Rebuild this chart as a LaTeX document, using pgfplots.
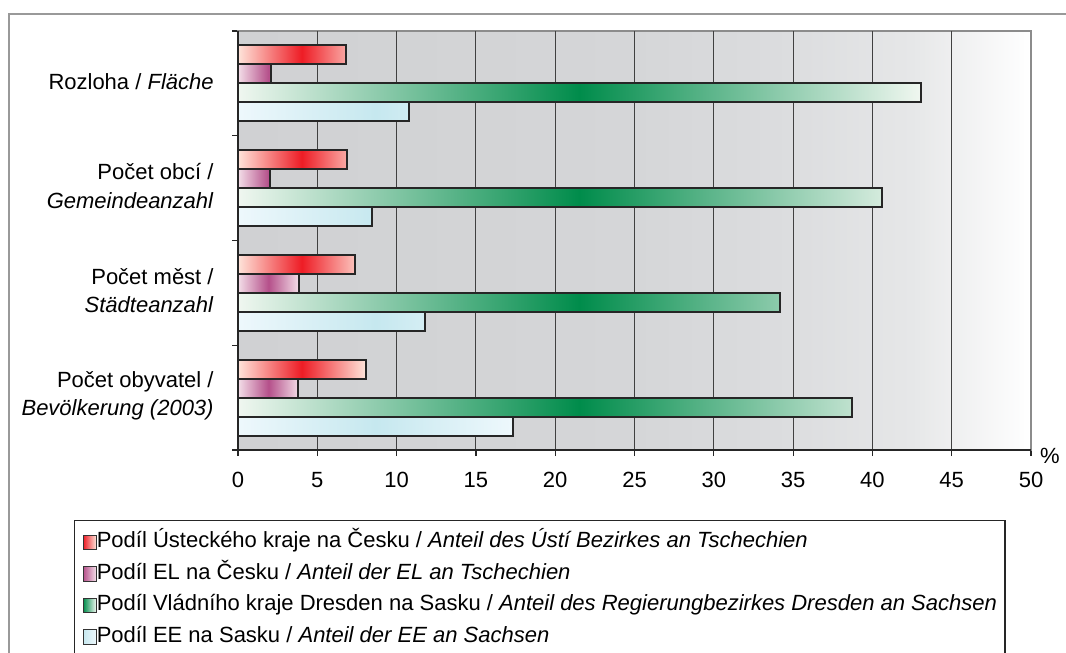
\documentclass[border=0pt]{standalone}
\usepackage{fontspec}
\setmainfont{Liberation Sans}
\usepackage{pgfplots}
\pgfplotsset{compat=1.18}
\definecolor{redM}{HTML}{EE1C25}
\definecolor{redL}{HTML}{FEE4DA}
\definecolor{purM}{HTML}{B5508A}
\definecolor{purL}{HTML}{F3DEE8}
\definecolor{grnM}{HTML}{008C4B}
\definecolor{grnL}{HTML}{F0F7F0}
\definecolor{bluM}{HTML}{C6E8EF}
\definecolor{bluL}{HTML}{EEF8FC}
\definecolor{bgA}{HTML}{D0D1D3}
\definecolor{bgB}{HTML}{D5D6D8}
\definecolor{bgC}{HTML}{DCDDDF}
\definecolor{bgD}{HTML}{E6E7E8}
\pgfdeclarehorizontalshading{bgshade}{100bp}{color(0bp)=(bgA); color(25bp)=(bgA); color(50bp)=(bgB); color(60bp)=(bgC); color(67.5bp)=(bgD); color(75bp)=(white); color(100bp)=(white)}
\begin{document}
\begin{tikzpicture}
\draw[black!40, line width=1pt] (4.5pt,-360pt) |- (560pt,-7pt);
\begin{axis}[
  at={(119pt,-225pt)}, anchor=south west,
  scale only axis, width=396.5pt, height=209.5pt,
  xbar, bar width=0.181,
  xmin=0, xmax=50, ymin=-0.5, ymax=3.5, y dir=reverse,
  axis background/.style={shade, shading=bgshade},
  axis line style={black!45, line width=1pt},
  xtick={0,5,...,50},
  ytick={-0.5,0.5,1.5,2.5,3.5}, yticklabels={,,,,},
  extra y ticks={0,1,2,3},
  extra y tick labels={{Rozloha / \textit{Fläche}},{Počet obcí /\\\textit{Gemeindeanzahl}},{Počet měst /\\\textit{Städteanzahl}},{Počet obyvatel /\\\textit{Bevölkerung (2003)}}},
  extra y tick style={major tick length=0pt},
  extra x ticks={5,10,...,45}, extra x tick labels={},
  extra x tick style={grid=major, major tick length=0pt},
  major grid style={black!75, line width=0.5pt},
  tick align=outside, xtick pos=bottom, ytick pos=left,
  major tick length=3pt,
  tick style={black!85, line width=0.6pt},
  /pgf/number format/assume math mode=true,
  xticklabel style={font=\fontsize{11}{13}\selectfont, anchor=mid, yshift=-13.2pt, inner sep=0pt},
  yticklabel style={font=\fontsize{11}{14.2}\selectfont, align=right, anchor=east, inner sep=0pt, xshift=-12pt, yshift=1pt},
  legend cell align=left,
  legend style={at={(-0.2068,-0.1659)}, anchor=north west, draw=black!85, line width=0.6pt, fill=white,
    inner xsep=4pt, inner ysep=5.9pt, row sep=5.25pt, font=\fontsize{11}{13}\selectfont,
    nodes={inner sep=0pt, text height=8pt, text depth=2.5pt},
    /tikz/every even column/.append style={column sep=3pt}},
  clip=false,
]
\addplot[bar shift=-0.2715, draw=black!85, line width=1pt, left color=redL, right color=redL, middle color=redM,
  legend image code/.code={\draw[draw=black!80, line width=0.6pt, left color=redM, right color=redL] (0pt,-3.6pt) rectangle (6.5pt,3.6pt);}]
  coordinates {(6.8,0) (6.9,1) (7.4,2) (8.05,3)};
\addlegendentry{Podíl Ústeckého kraje na Česku / \textit{Anteil des Ústí Bezirkes an Tschechien}}
\addplot[bar shift=-0.0905, draw=black!85, line width=1pt, left color=purL, right color=purL, middle color=purM,
  legend image code/.code={\draw[draw=black!80, line width=0.6pt, left color=purM, right color=purL] (0pt,-3.6pt) rectangle (6.5pt,3.6pt);}]
  coordinates {(2.1,0) (2.0,1) (3.85,2) (3.8,3)};
\addlegendentry{Podíl EL na Česku / \textit{Anteil der EL an Tschechien}}
\addplot[bar shift=0.0905, draw=black!85, line width=1pt, left color=grnL, right color=grnL, middle color=grnM,
  legend image code/.code={\draw[draw=black!80, line width=0.6pt, left color=grnM, right color=grnL] (0pt,-3.6pt) rectangle (6.5pt,3.6pt);}]
  coordinates {(43.05,0) (40.6,1) (34.2,2) (38.7,3)};
\addlegendentry{Podíl Vládního kraje Dresden na Sasku / \textit{Anteil des Regierungbezirkes Dresden an Sachsen}}
\addplot[bar shift=0.2715, draw=black!85, line width=1pt, left color=bluL, right color=bluL, middle color=bluM,
  legend image code/.code={\draw[draw=black!80, line width=0.6pt, left color=bluM, right color=bluL] (0pt,-3.6pt) rectangle (6.5pt,3.6pt);}]
  coordinates {(10.8,0) (8.45,1) (11.8,2) (17.35,3)};
\addlegendentry{Podíl EE na Sasku / \textit{Anteil der EE an Sachsen}}
\addlegendimage{empty legend}
\addlegendentry{}
\draw[black!85, line width=0.7pt] (axis cs:0,-0.5) -- (axis cs:0,3.5) -- (axis cs:50,3.5);
\node[font=\fontsize{11}{13}\selectfont, inner sep=0pt] at ([xshift=9.5pt,yshift=-2.75pt]axis cs:50,3.5) {\%};
\end{axis}
\pgfresetboundingbox
\useasboundingbox (0,0) rectangle (533pt,-326.5pt);
\end{tikzpicture}
\end{document}
